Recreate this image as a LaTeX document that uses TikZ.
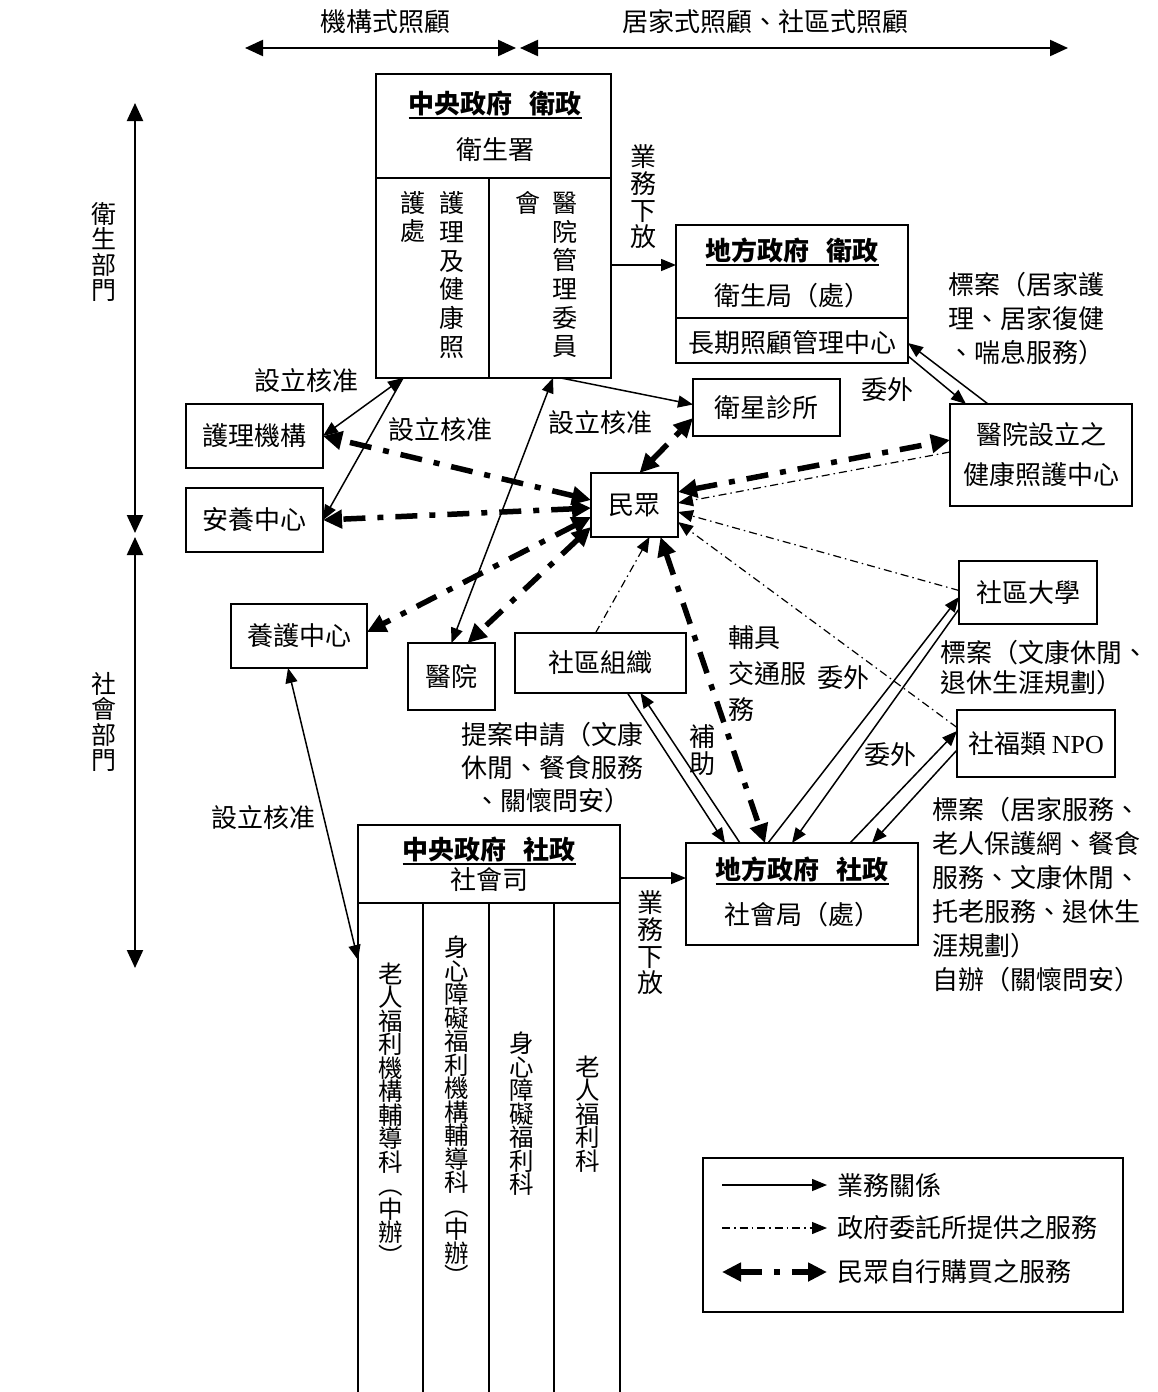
\documentclass[tikz,border=0pt]{standalone}
\usepackage{fontspec}
\setmainfont{Noto Sans CJK TC}
\newfontfamily\latinserif{Liberation Serif}
\usetikzlibrary{arrows.meta}
\newcommand\myul[1]{\setbox0=\hbox{#1}\rlap{\rule[-5pt]{\wd0}{2pt}}\box0}
\tikzset{
  tipS/.tip={Triangle[length=15pt,width=12pt]},
  tipB/.tip={Triangle[length=19pt,width=18pt]},
  tipT/.tip={Triangle[length=18pt,width=16pt]},
  box/.style={draw, line width=2pt, inner sep=0pt, outer sep=0pt},
  biz/.style={line width=1.5pt},
  gov/.style={line width=1.2pt, dash pattern=on 8pt off 4pt on 1.5pt off 4pt},
  buy/.style={line width=5.5pt, dash pattern=on 22pt off 12pt on 6pt off 12pt, tipB-tipB},
  vt/.style={align=center, inner sep=0pt},
  hdr/.style={font=\fontsize{26}{30}\selectfont\bfseries},
}
\begin{document}
\begin{tikzpicture}[x=1pt,y=-1pt, every node/.style={font=\fontsize{26}{30}\selectfont, inner sep=0pt}]
\useasboundingbox (0,0) rectangle (1158,1392);
\fill[white] (0,0) rectangle (1158,1392);

% ---------- top arrows ----------
\coordinate (t1) at (245,48); \coordinate (t2) at (516,48);
\coordinate (t3) at (520,48); \coordinate (t4) at (1068,48);
\draw[line width=2.2pt, tipT-tipT] (t1) -- (t2);
\draw[line width=2.2pt, tipT-tipT] (t3) -- (t4);
\node (lbl1) at (385,22) {機構式照顧};
\node (lbl2) at (765,22) {居家式照顧、社區式照顧};

% ---------- left arrows ----------
\coordinate (v1) at (135,103); \coordinate (v2) at (135,533);
\coordinate (v3) at (135,537); \coordinate (v4) at (135,968);
\draw[line width=2.2pt, tipT-tipT] (v1) -- (v2);
\draw[line width=2.2pt, tipT-tipT] (v3) -- (v4);
\node[vt, font=\fontsize{25}{25.5}\selectfont] (lv1) at (104,252) {衛\\生\\部\\門};
\node[vt, font=\fontsize{25}{25.5}\selectfont] (lv2) at (104,722) {社\\會\\部\\門};

% ---------- central health ----------
\node[box, minimum width=235pt, minimum height=304pt] (ch) at (493.5,226) {};
\draw[line width=2pt] (ch.west |- 0,178) -- (ch.east |- 0,178);
\draw[line width=2pt] (489,178) -- (489,378);
\node[hdr] (chh) at (495,105) {\myul{中央政府\hspace{17pt}衛政}};
\node (chs) at (495,150) {衛生署};
\node[vt, font=\fontsize{25}{28.7}\selectfont] (chc1) at (452,275) {護\\理\\及\\健\\康\\照};
\node[vt, font=\fontsize{25}{28.7}\selectfont] (chc2) at (413,217) {護\\處};
\node[vt, font=\fontsize{25}{28.7}\selectfont] (chc3) at (565,275) {醫\\院\\管\\理\\委\\員};
\node[font=\fontsize{25}{28.7}\selectfont] (chc4) at (528,203) {會};

% ---------- local health ----------
\node[box, minimum width=232pt, minimum height=138pt] (lh) at (792,294) {};
\draw[line width=2pt] (lh.west |- 0,318) -- (lh.east |- 0,318);
\node[hdr] (lhh) at (792,252) {\myul{地方政府\hspace{17pt}衛政}};
\node (lhs) at (792,296) {衛生局（處）};
\node (lhc) at (792,343) {長期照顧管理中心};

% ---------- local social ----------
\node[box, minimum width=232pt, minimum height=102pt] (ls) at (802,894) {};
\node[hdr] (lsh) at (802,871) {\myul{地方政府\hspace{17pt}社政}};
\node (lss) at (802,915) {社會局（處）};

% ---------- central social ----------
\node[box, minimum width=262pt, minimum height=580pt] (cs) at (489,1115) {};
\draw[line width=2pt] (cs.west |- 0,903) -- (cs.east |- 0,903);
\draw[line width=2pt] (423,903) -- (423,1400);
\draw[line width=2pt] (489,903) -- (489,1400);
\draw[line width=2pt] (554,903) -- (554,1400);
\node[hdr] (csh) at (489,851) {\myul{中央政府\hspace{17pt}社政}};
\node (css) at (489,880) {社會司};
\node[vt, font=\fontsize{24.5}{23.5}\selectfont] (csc1) at (391,1114) {老\\人\\福\\利\\機\\構\\輔\\導\\科\\︵\\中\\辦\\︶};
\node[vt, font=\fontsize{24.5}{23.5}\selectfont] (csc2) at (457,1111) {身\\心\\障\\礙\\福\\利\\機\\構\\輔\\導\\科\\︵\\中\\辦\\︶};
\node[vt, font=\fontsize{24.5}{23.5}\selectfont] (csc3) at (522,1114) {身\\心\\障\\礙\\福\\利\\科};
\node[vt, font=\fontsize{24.5}{23.5}\selectfont] (csc4) at (588,1114) {老\\人\\福\\利\\科};

% ---------- small boxes ----------
\node[box, minimum width=137pt, minimum height=64pt] (nur) at (254.5,436) {護理機構};
\node[box, minimum width=137pt, minimum height=64pt] (ans) at (254.5,520) {安養中心};
\node[box, minimum width=87pt, minimum height=64pt] (min) at (634.5,505) {民眾};
\node[box, minimum width=136pt, minimum height=64pt] (yh) at (299,636) {養護中心};
\node[box, minimum width=87pt, minimum height=67pt] (hos) at (451.5,676.5) {醫院};
\node[box, minimum width=171pt, minimum height=60pt] (org) at (600.5,663) {社區組織};
\node[box, minimum width=147pt, minimum height=57pt] (sat) at (766.5,407.5) {衛星診所};
\node[box, minimum width=182pt, minimum height=102pt, align=center, font=\fontsize{26}{40}\selectfont] (hcc) at (1041,455) {醫院設立之\\健康照護中心};
\node[box, minimum width=138pt, minimum height=63pt] (uni) at (1028,592.5) {社區大學};
\node[box, minimum width=158pt, minimum height=67pt] (npo) at (1036,743.5) {社福類 {\latinserif NPO}};

% ---------- business relation arrows ----------
\draw[biz, tipS-tipS] ([xshift=27pt]ch.south west) -- (nur.east);
\draw[biz, -tipS] ([xshift=27pt]ch.south west) -- (ans.east);
\draw[biz, tipS-tipS] ([xshift=-58pt]ch.south east) -- (hos.north);
\draw[biz, -tipS] ([xshift=-50pt]ch.south east) -- ([yshift=3pt]sat.west);
\coordinate (p5) at ([yshift=-39pt]ch.east);
\draw[biz, -tipS] (p5) -- (p5 -| lh.west);
\coordinate (p6) at ([yshift=16pt]ls.west);
\draw[biz, -tipS] (p6 -| cs.east) -- (p6);
\draw[biz, tipS-tipS] ([xshift=-11pt]yh.south) -- ([yshift=155pt]cs.west);
\draw[biz, -tipS] ([xshift=38pt]hcc.north west) -- ([yshift=-49pt]lh.east);
\draw[biz, -tipS] ([yshift=-62pt]lh.east) -- ([xshift=16pt]hcc.north west);
\draw[biz, -tipS] ([xshift=54pt]ls.north west) -- ([xshift=40pt]org.south);
\draw[biz, -tipS] ([xshift=27pt]org.south) -- ([xshift=39pt]ls.north west);
\draw[biz, -tipS] ([xshift=82pt]ls.north west) -- ([yshift=27pt]uni.south west);
\draw[biz, -tipS] ([yshift=15pt]uni.south west) -- ([xshift=106pt]ls.north west);
\draw[biz, -tipS] ([xshift=164pt]ls.north west) -- ([yshift=46pt]npo.south west);
\draw[biz, -tipS] ([yshift=27pt]npo.south west) -- ([xshift=186pt]ls.north west);

% ---------- government commissioned ----------
\draw[gov, -tipS] ([yshift=3pt]hcc.west) -- ([yshift=2pt]min.east);
\draw[gov, -tipS] ([yshift=2pt]uni.west) -- ([yshift=-7pt]min.east);
\draw[gov, -tipS] ([yshift=16pt]npo.west) -- ([yshift=-17pt]min.east);
\draw[gov, -tipS] ([xshift=-5pt]org.north) -- ([xshift=15pt]min.south);

% ---------- self purchased ----------
\draw[buy] ([yshift=5pt]min.west) -- (nur.east);
\draw[buy] ([yshift=-3pt]min.west) -- (ans.east);
\draw[buy] ([yshift=-12pt]min.west) -- ([yshift=4pt]yh.east);
\draw[buy] ([yshift=-22pt]min.west) -- ([xshift=16pt]hos.north);
\draw[buy] ([xshift=5pt]min.north) -- ([yshift=18pt]sat.south west);
\draw[buy] ([yshift=13pt]min.east) -- ([yshift=15pt]hcc.west);
\draw[buy] ([xshift=26pt]min.south) -- ([xshift=79pt]ls.north west);

% ---------- labels ----------
\node (sl1) at (306,381) {設立核准};
\node (sl2) at (440,430) {設立核准};
\node (sl3) at (600,423) {設立核准};
\node (sl4) at (263,818) {設立核准};
\node (wl1) at (887,390) {委外};
\node (wl2) at (843,678) {委外};
\node (wl3) at (890,755) {委外};
\node[vt, font=\fontsize{26}{26.7}\selectfont] (yw1) at (643,197) {業\\務\\下\\放};
\node[vt, font=\fontsize{26}{26.7}\selectfont] (yw2) at (650,943) {業\\務\\下\\放};
\node[vt, font=\fontsize{26}{26.7}\selectfont] (bz) at (702,750) {補\\助};
\node[anchor=west, align=left, font=\fontsize{26}{34}\selectfont] (tb1) at (948,319) {標案（居家護\\理、居家復健\\、喘息服務）};
\node[anchor=west, align=left, font=\fontsize{26}{30}\selectfont] (tb2) at (940,668) {標案（文康休閒、\\退休生涯規劃）};
\node[align=center, font=\fontsize{26}{33}\selectfont] (tb3) at (552,768) {提案申請（文康\\休閒、餐食服務\\、關懷問安）};
\node[anchor=west, align=left, font=\fontsize{26}{34}\selectfont] (tb4) at (932,895) {標案（居家服務、\\老人保護網、餐食\\服務、文康休閒、\\托老服務、退休生\\涯規劃）\\自辦（關懷問安）};
\node[anchor=west, align=left, font=\fontsize{26}{36}\selectfont] (tb5) at (728,674) {輔具\\交通服\\務};

% ---------- legend ----------
\node[box, minimum width=420pt, minimum height=154pt] (leg) at (913,1235) {};
\coordinate (la1) at (722,1185); \coordinate (la2) at (827,1185);
\coordinate (lb1) at (722,1228); \coordinate (lb2) at (827,1228);
\coordinate (lc1) at (722,1272); \coordinate (lc2) at (827,1272);
\draw[biz, -tipS] (la1) -- (la2);
\draw[gov, -tipS] (lb1) -- (lb2);
\draw[buy] (lc1) -- (lc2);
\node[anchor=west] (lt1) at (837,1185) {業務關係};
\node[anchor=west] (lt2) at (837,1228) {政府委託所提供之服務};
\node[anchor=west] (lt3) at (837,1272) {民眾自行購買之服務};
\end{tikzpicture}
\end{document}
